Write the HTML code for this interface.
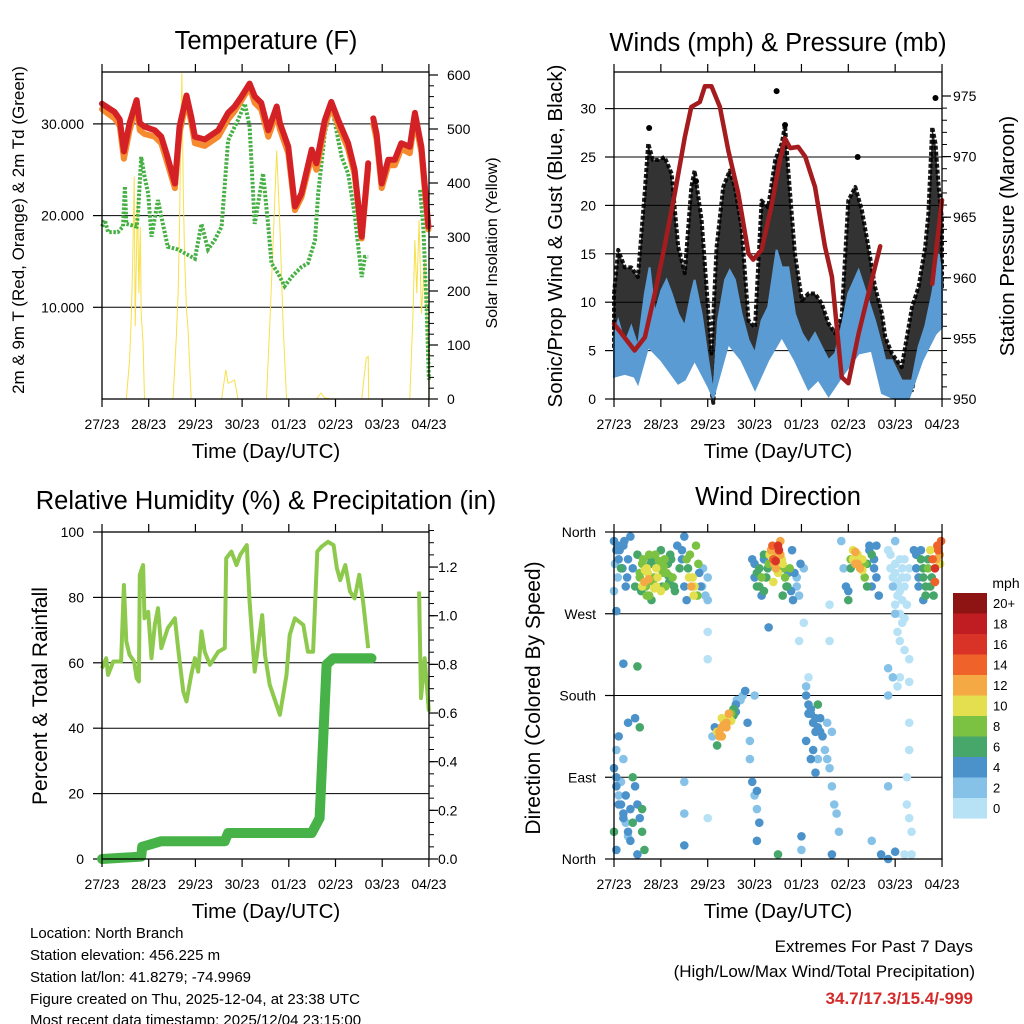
<!DOCTYPE html>
<html><head><meta charset="utf-8"><style>
html,body{margin:0;padding:0;background:#fff;}
svg{display:block;font-family:"Liberation Sans",sans-serif;}
</style></head><body>
<svg id="c" width="1024" height="1024" viewBox="0 0 1024 1024" xmlns="http://www.w3.org/2000/svg">
<rect x="0" y="0" width="1024" height="1024" fill="#fff"/>
<text x="266" y="49" font-size="25.5" text-anchor="middle">Temperature (F)</text>
<text x="778" y="51" font-size="25.5" text-anchor="middle">Winds (mph) &amp; Pressure (mb)</text>
<text x="266" y="509" font-size="25.5" text-anchor="middle">Relative Humidity (%) &amp; Precipitation (in)</text>
<text x="778" y="505" font-size="25.5" text-anchor="middle">Wind Direction</text>
<text x="266" y="458" font-size="20.5" text-anchor="middle">Time (Day/UTC)</text>
<text x="778" y="458" font-size="20.5" text-anchor="middle">Time (Day/UTC)</text>
<text x="266" y="918" font-size="20.5" text-anchor="middle">Time (Day/UTC)</text>
<text x="778" y="918" font-size="20.5" text-anchor="middle">Time (Day/UTC)</text>
<text transform="translate(24,230) rotate(-90)" font-size="17" text-anchor="middle">2m &amp; 9m T (Red, Orange) &amp; 2m Td (Green)</text>
<text transform="translate(497,243) rotate(-90)" font-size="16" text-anchor="middle">Solar Insolation (Yellow)</text>
<text transform="translate(562,236) rotate(-90)" font-size="20.5" text-anchor="middle">Sonic/Prop Wind &amp; Gust (Blue, Black)</text>
<text transform="translate(1014,236) rotate(-90)" font-size="20.5" text-anchor="middle">Station Pressure (Maroon)</text>
<text transform="translate(47,696) rotate(-90)" font-size="21" text-anchor="middle">Percent &amp; Total Rainfall</text>
<text transform="translate(540,698) rotate(-90)" font-size="21" text-anchor="middle">Direction (Colored By Speed)</text>
<g font-size="15">
<text x="30" y="938">Location: North Branch</text>
<text x="30" y="960">Station elevation: 456.225 m</text>
<text x="30" y="982">Station lat/lon: 41.8279; -74.9969</text>
<text x="30" y="1004">Figure created on Thu, 2025-12-04, at 23:38 UTC</text>
<text x="30" y="1025">Most recent data timestamp: 2025/12/04 23:15:00</text>
</g>
<text x="973" y="952" font-size="17" text-anchor="end">Extremes For Past 7 Days</text>
<text x="975" y="977" font-size="17" text-anchor="end">(High/Low/Max Wind/Total Precipitation)</text>
<text x="973" y="1004" font-size="17" font-weight="bold" fill="#d42a2a" text-anchor="end">34.7/17.3/15.4/-999</text>
<text x="1006" y="588" font-size="14" text-anchor="middle">mph</text>
</svg>
<script>
const NS='http://www.w3.org/2000/svg';
const svg=document.getElementById('c');
function mk(tag,attrs,parent){const e=document.createElementNS(NS,tag);for(const k in attrs)e.setAttribute(k,attrs[k]);(parent||svg).appendChild(e);return e;}

// ---- data ----
const dayLabels=['27/23','28/23','29/23','30/23','01/23','02/23','03/23','04/23'];
const tempDays=[0,0.27,0.38,0.47,0.59,0.74,0.81,0.91,1.13,1.27,1.38,1.56,1.66,1.81,1.91,1.99,2.2,2.49,2.7,2.84,2.99,3.16,3.27,3.41,3.56,3.74,3.81,3.99,4.13,4.27,4.49,4.59,4.77,4.91,5.06,5.27,5.41,5.56,5.7,5.75,5.81,5.88,5.99,6.13,6.27,6.41,6.59,6.7,6.84,6.99];
const temp2m=[32.2,31.3,30.5,27.0,30.1,32.6,30.1,29.7,29.3,28.6,26.8,23.5,29.7,33.1,30.8,28.6,28.3,29.3,31.2,31.9,33.0,34.4,33.0,32.3,29.3,31.9,30.1,27.5,21.0,22.4,27.2,25.7,30.4,32.4,30.4,27.9,25.0,17.7,25.7,null,30.6,28.9,23.5,26.1,26.1,27.9,27.5,31.2,27.5,18.8];
const temp9m=[31.6,30.6,29.8,26.2,29.3,32.0,29.3,28.9,28.6,27.9,26.1,23.0,29.0,32.6,30.2,27.9,27.6,28.6,30.5,31.4,32.6,34.0,32.3,31.6,28.6,31.2,29.4,26.8,20.6,22.0,26.5,25.0,29.8,32.0,29.8,27.3,24.5,17.5,25.2,null,30.0,28.3,23.0,25.5,25.5,27.3,26.8,30.6,26.9,18.5];
const dewDays=[0,0.06,0.13,0.34,0.45,0.49,0.52,0.74,0.77,0.84,0.91,0.99,1.06,1.2,1.27,1.41,1.63,1.77,1.99,2.13,2.27,2.41,2.56,2.7,2.91,3.06,3.16,3.27,3.45,3.56,3.63,3.77,3.91,4.06,4.27,4.41,4.56,4.63,4.77,4.91,5.13,5.27,5.41,5.56,5.63,5.7,6.0,6.81,6.88,6.95,7.0];
const dewVals=[18.8,19.5,18.2,18.2,18.8,23.2,19.1,18.8,20.2,26.4,24.3,22.4,17.7,21.7,19.9,16.6,16.3,15.9,15.3,19.1,16.3,17.3,18.8,28.2,30.4,32.2,29.7,19.1,24.6,18.8,14.8,13.7,12.3,13.3,14.4,14.8,17.3,22.4,29.0,32.1,26.4,24.6,20.2,13.3,15.5,15.5,null,22.8,18.8,10.1,2.1];
const solarDays=[0,0.52,0.59,0.63,0.66,0.69,0.71,0.74,0.76,0.79,0.82,0.84,0.88,0.91,1.52,1.59,1.63,1.66,1.69,1.71,1.74,1.77,1.81,1.84,1.91,2.56,2.65,2.7,2.77,2.84,2.91,3.52,3.59,3.66,3.74,3.81,3.88,3.95,4.59,4.69,4.77,4.91,5.56,5.61,5.66,5.7,5.71,6.59,6.66,6.7,6.74,6.79,6.84,6.91,6.99,7.0];
const solarVals=[0,0,72,158,263,412,135,281,368,196,319,158,103,0,0,114,196,319,504,603,381,257,165,134,0,0,54,29,32,35,0,0,134,281,460,319,134,0,0,11,2,0,0,39,76,79,0,0,158,294,196,331,158,257,72,0];

const windDaysTop=[0,0.09,0.23,0.37,0.51,0.66,0.76,0.87,1.01,1.12,1.23,1.37,1.51,1.65,1.72,1.87,2.01,2.12,2.22,2.37,2.47,2.58,2.72,2.87,3.01,3.15,3.29,3.47,3.58,3.72,3.86,4.01,4.15,4.29,4.43,4.58,4.72,4.86,5.0,5.22,5.43,5.57,5.72,5.79,5.93,6.14,6.36,6.5,6.64,6.79,6.93,7.0];
const windTop=[6.4,8.1,5.7,7.5,5.4,10.9,13.6,8.8,11.2,12.3,10.9,8.8,7.5,10.9,12.3,8.8,4.0,0.6,8.1,12.3,13.3,12.3,8.8,6.1,4.7,8.1,9.5,15.4,13.6,13.6,8.8,6.8,5.7,6.8,5.4,4.0,4.7,7.5,10.9,13.3,10.2,8.1,5.4,4.0,4.0,1.9,1.9,5.4,7.5,10.9,15.0,12.6];
const windDaysLow=[0,0.23,0.44,0.51,0.73,1.01,1.37,1.51,1.72,2.01,2.12,2.44,2.72,3.01,3.29,3.58,3.86,4.15,4.36,4.58,4.86,5.22,5.5,5.72,6.0,6.29,6.58,6.86,7.0];
const windLow=[2.3,2.6,2.3,1.6,5.4,4.0,1.6,2.0,4.0,1.3,0.1,5.7,4.0,1.0,4.0,6.4,4.0,1.0,2.0,0.3,2.3,4.7,5.0,0.6,0,0,4.0,6.7,7.4];
const gustDays=[0,0.09,0.23,0.37,0.51,0.66,0.73,0.83,0.94,1.08,1.23,1.37,1.51,1.65,1.72,1.87,2.01,2.08,2.19,2.33,2.47,2.58,2.72,2.87,3.01,3.15,3.29,3.44,3.58,3.65,3.72,3.86,4.01,4.15,4.29,4.43,4.58,4.72,4.86,5.0,5.15,5.29,5.43,5.57,5.72,5.79,5.93,6.14,6.36,6.5,6.64,6.71,6.79,6.86,6.93,7.0];
const gustTop=[10.9,15.4,13.6,13.6,12.6,21.6,26.4,24.7,24.7,25.0,23.3,15.7,13.0,21.9,23.6,18.5,9.2,4.7,15.7,21.9,23.6,21.9,17.8,8.1,7.4,20.5,19.8,24.7,26.4,28.3,23.6,15.0,10.2,10.9,10.9,9.9,7.8,6.8,8.5,20.5,21.9,19.5,15.7,11.6,8.8,6.4,4.7,3.3,9.5,11.6,15.7,19.2,28.1,26.4,21.9,18.5];
const gustOutDays=[3.47,6.86,3.65,5.2,0.75,1.75];
const gustOutVals=[31.8,31.1,28.3,25.0,28.0,22.5];
const presDays=[0,0.44,0.66,0.87,1.08,1.3,1.51,1.65,1.83,1.94,2.08,2.26,2.44,2.65,2.87,2.97,3.15,3.36,3.54,3.65,3.76,3.93,4.08,4.29,4.5,4.65,4.86,5.0,5.22,5.43,5.57,5.68,5.9,6.79,6.89,7.0];
const presVals=[956.2,954.0,955.1,958.7,962.6,967.0,971.6,974.1,974.5,975.8,975.8,974.1,970.5,967.0,962.0,961.5,962.3,965.9,969.7,971.5,970.7,970.8,970.0,967.5,962.6,960.1,951.8,951.3,955.4,958.7,960.9,962.6,null,959.5,962.8,966.4];

const rhDays=[0,0.09,0.13,0.24,0.41,0.47,0.52,0.59,0.69,0.74,0.79,0.81,0.88,0.91,0.99,1.06,1.13,1.2,1.27,1.41,1.56,1.63,1.74,1.81,1.91,1.99,2.06,2.13,2.2,2.31,2.49,2.63,2.66,2.77,2.88,2.96,3.1,3.16,3.27,3.43,3.49,3.59,3.81,3.95,4.02,4.13,4.31,4.41,4.52,4.61,4.7,4.84,4.96,5.03,5.1,5.21,5.31,5.41,5.51,5.59,5.7,6.2,6.79,6.83,6.91,7.0];
const rhVals=[58.3,61.4,56.3,60.4,60.4,83.8,66.5,62.4,60.4,55.3,54.3,86.9,89.9,73.6,75.6,61.4,71.6,76.7,64.5,70.6,73.6,64.5,51.2,48.2,56.3,61.4,57.3,69.6,63.4,59.4,63.4,64.5,92.0,94.0,89.9,93.0,96.0,78.7,57.3,74.6,62.4,53.3,44.1,56.3,68.5,73.6,71.6,63.4,63.4,94.0,95.5,97.0,96.0,88.9,85.3,89.9,81.8,79.7,86.9,78.7,64.5,null,81.8,49.2,61.4,45.1];
const precDays=[0,0.84,0.86,1.27,2.63,2.7,4.49,4.66,4.81,4.95,5.77];
const precVals=[0.0,0.01,0.05,0.073,0.073,0.107,0.107,0.168,0.8,0.825,0.825];

const dirDays=[0,0.05,0.1,0.08,0.15,0.2,0.25,0,0.3,0.35,0.4,0.45,0.5,0.55,0.6,0.65,0.7,0.75,0.8,0.85,0.9,0.95,1,1.05,1.1,1.15,1.2,1.25,1.3,1.35,1.4,1.45,1.5,1.55,1.6,1.65,1.7,1.75,1.8,1.85,1.9,1.95,2,2,0.7,0.8,0.6,1,0.9,0.75,0.05,
2.95,3,3.05,3.1,3.15,3.2,3.25,3.3,3.35,3.4,3.45,3.5,3.55,3.6,3.65,3.7,3.75,3.8,3.85,3.9,3.95,4.05,3.4,3.5,3.6,3.2,3.55,3.45,
4.85,4.9,4.95,5,5.05,5.1,5.15,5.2,5.25,5.3,5.35,5.4,5.45,5.5,5.55,5.6,5.65,5.5,
5.85,5.9,5.95,6,6.05,6.1,6.15,6.2,6.25,6.3,6,6.05,6.1,6.15,6.2,6.3,5.95,6.05,6.3,6,
6.4,6.45,6.5,6.55,6.6,6.65,6.7,6.75,6.8,6.85,6.9,6.95,6.85,6.75,6.6,
2.1,2.15,2.2,2.25,2.3,2.35,2.4,2.45,2.5,2.55,2.6,2.7,2.75,2.8,2.85,2.9,2.9,2.95,3,2.2,2.3,2.45,
4.1,4.15,4.2,4.25,4.3,4.35,4.4,4.45,4.5,4.55,4.6,4.65,4.7,4.1,4.2,4.3,4.55,4.65,4.75,4.8,4.1,4.15,
0,0.05,0.1,0.15,0.2,0.25,0.3,0.35,0.4,0.45,0.5,0.55,0.6,0.65,0.05,0.1,0.3,0.45,0.55,0.6,0,0.05,0.5,0.2,
0.2,0.5,1.5,1.5,1.5,1.55,2,2,2,3,3.05,3.05,3.1,3.05,3.3,3.5,3.95,4.05,4,4,4.6,4.6,4.65,5.5,5.7,5.85,6,6.1,6.3,6.3,6.25,6.25,6.3,6.35,6.35,6.2,5.85,5.85,5.85,
0.55,0.62,0.68,0.72,0.78,0.83,0.88,0.93,0.98,1.03,1.08,1.12,1.18,0.58,0.66,0.74,0.86,0.96,1.06,1.16,1.22,1.28,0.12,0.18,0.22,0.28,0.02,0.1,1.45,1.5,1.58,1.62,1.68,1.72,1.78,1.82,1.88,
3.0,3.05,3.1,3.15,3.2,3.28,3.32,3.38,3.42,3.48,3.52,3.58,3.62,3.68,3.72,3.78,3.82,3.9,3.98,
5.0,5.05,5.1,5.15,5.2,5.25,5.3,5.35,5.4,5.45,5.55,5.6,
5.9,5.95,6.0,6.05,6.1,6.15,6.2,6.25,6.0,6.1,6.2,6.05,6.15,
6.45,6.5,6.55,6.6,6.65,6.7,6.78,6.82,6.88,6.92,6.96,6.98,
2.25,2.3,2.35,2.4,2.5,2.55,2.6,2.62,
4.15,4.2,4.25,4.3,4.35,4.4,4.25,4.35,
0.05,0.1,0.15,0.2,0.25,0.3,0.35,0.4];
const dirVals=[350,340,330,310,320,345,300,295,330,355,320,300,335,315,325,305,320,290,330,310,300,325,340,315,300,325,335,310,295,345,320,340,355,330,310,300,290,345,325,300,320,290,310,285,290,285,300,295,320,335,273,
330,310,300,320,290,335,310,325,340,330,320,345,335,325,310,300,320,340,315,300,290,320,305,315,290,295,350,328,
350,320,300,285,330,340,325,335,320,330,310,325,340,300,320,345,290,335,
340,320,300,315,290,330,310,300,280,320,270,250,240,260,230,220,200,190,195,350,
340,320,300,330,310,290,320,340,330,320,345,335,305,300,285,
135,145,140,135,145,150,150,155,160,165,170,175,180,185,150,130,110,85,70,125,155,160,
180,170,160,150,140,170,155,135,120,110,100,80,60,130,110,95,150,140,50,30,190,200,
100,80,70,60,50,40,30,20,90,80,60,45,30,10,120,135,150,155,145,55,30,10,5,110,
215,212,85,50,15,285,250,220,45,180,75,55,40,20,255,5,240,260,25,10,240,280,5,20,5,0,8,200,150,120,90,60,45,30,5,5,80,180,210,
310,330,300,315,325,305,335,310,320,300,330,315,305,295,318,308,298,328,322,312,330,300,340,320,350,310,325,345,330,300,320,335,310,300,290,315,300,
325,315,300,310,330,320,335,345,325,335,340,330,320,300,315,295,285,310,325,
295,320,330,338,325,330,318,325,300,345,330,310,
335,310,325,305,295,320,330,310,280,270,265,300,285,
335,310,340,320,300,330,310,290,330,340,325,350,
140,135,148,145,152,158,162,175,
160,165,150,155,145,140,120,110,
90,60,85,45,70,25,55,40];
const dirSpd=[4,4,5,3,6,4,4,3,5,4,5,6,7,8,9,12,10,8,7,9,10,6,7,9,8,7,6,8,7,5,7,4,4,8,10,12,11,9,8,4,3,2,2,2,8,7,10,10,11,9,4,
4,4,6,7,5,6,7,8,12,14,12,16,12,10,8,7,9,4,4,3,3,2,10,11,6,6,13,16,
2,2,4,6,8,10,12,11,12,10,8,6,4,4,4,4,4,7,
0,1,2,0,0,0,1,0,0,1,2,1,0,1,1,0,2,1,0,2,
4,4,4,6,6,6,8,10,14,16,14,12,14,6,4,
2,4,10,12,12,10,12,10,8,6,4,2,2,4,4,2,2,4,2,6,10,12,
4,4,4,2,4,6,4,4,2,2,2,2,2,4,4,4,2,2,2,2,2,0,
4,4,2,4,4,2,4,4,6,4,4,4,6,6,2,4,4,4,6,6,6,4,4,2,
4,6,2,2,4,4,0,0,0,2,4,2,4,4,4,6,0,0,4,2,0,0,4,2,4,4,4,0,0,0,0,0,0,0,0,0,2,2,2,
8,9,8,10,7,9,8,11,9,7,8,9,7,6,10,12,10,9,8,7,6,7,4,5,4,4,3,4,4,4,6,8,11,10,9,4,2,
4,6,6,8,4,7,10,14,12,12,16,11,9,7,4,4,4,3,4,
4,6,10,12,12,11,10,8,6,4,4,4,
0,0,1,0,0,1,0,0,1,0,1,0,0,
4,4,4,6,6,6,6,6,12,14,10,14,
12,12,12,12,10,6,4,2,
4,4,4,4,4,4,4,2,
4,4,2,4,4,2,4,6];
const spdColors=['#b7e2f6','#86c2e8','#4b92cb','#47a76a','#7cc242','#e4df4f','#f5a944','#ef6229','#d93327','#c01d22','#8e1414'];
const legendLabels=['20+','18','16','14','12','10','8','6','4','2','0'];

// ---- axes ----
const X1=d=>102+d*46.7, X2=d=>614+d*46.86;
const yT=v=>399-v*9.17, ySol=v=>399-v*0.54;
const yW=v=>399-v*9.68, yP=p=>399-(p-950)*12.12;
const yRH=v=>859-v*3.27, yPr=v=>859-v*243.3;
const yD=v=>859-v*327/360;

function path(days,vals,fx,fy){let s='',pen=false;for(let i=0;i<days.length;i++){if(vals[i]===null){pen=false;continue;}s+=(pen?'L':'M')+fx(days[i]).toFixed(1)+' '+fy(vals[i]).toFixed(1);pen=true;}return s;}

function frame(x0,x1,y0,y1,name,fx,bottomLabelY){
  const g=mk('g',{});
  
  
  mk('rect',{x:x0,y:y0,width:x1-x0,height:y1-y0,fill:'none',stroke:'#000','stroke-width':1.3},g);
  dayLabels.forEach((lab,i)=>{const x=fx(i);
    mk('line',{x1:x,x2:x,y1:y1,y2:y1+8,stroke:'#000','stroke-width':1.2},g);
    mk('line',{x1:x,x2:x,y1:y0,y2:y0-8,stroke:'#000','stroke-width':1.2},g);
    const t=mk('text',{x:x,y:bottomLabelY,'font-size':14,'text-anchor':'middle'},g);
    
    
    t.textContent=lab;});
  return g;
}
function hgrid(vals,fy,x0,x1){vals.forEach(v=>{const l=mk('line',{x1:x0,x2:x1,y1:fy(v),y2:fy(v),stroke:'#000','stroke-width':1});
  
  });}
function ylabels(vals,fmt,fy,x,anchor,tickx,dir,name){vals.forEach(v=>{const t=mk('text',{x:x,y:fy(v)+5,'font-size':14,'text-anchor':anchor});
  
  
  t.textContent=fmt(v);
  mk('line',{x1:tickx,x2:tickx+dir*9,y1:fy(v),y2:fy(v),stroke:'#000','stroke-width':1.2});});}
function minor(n,y0,y1,x,dir){for(let i=0;i<=n;i++){const y=y0+(y1-y0)*i/n;mk('line',{x1:x,x2:x+dir*5,y1:y,y2:y,stroke:'#000','stroke-width':1});}}

// ---- Panel 1: temperature ----
hgrid([10,20,30],yT,102,429);
ylabels([10,20,30],v=>v.toFixed(3),yT,84,'end',102,-1,'temp-tick-label');
ylabels([0,100,200,300,400,500,600],v=>String(v),ySol,447,'start',429,1,'solar-tick-label');
minor(30,ySol(0),ySol(600),429,1);
let e=mk('path',{d:path(solarDays,solarVals,X1,ySol),fill:'none',stroke:'#f7e04a','stroke-width':1});


e=mk('path',{d:path(dewDays,dewVals,X1,yT),fill:'none',stroke:'#46b045','stroke-width':4,'stroke-dasharray':'2.5 1.6'});


e=mk('path',{d:path(tempDays,temp9m,X1,yT),fill:'none',stroke:'#f58a2e','stroke-width':6,'stroke-linejoin':'round','stroke-linecap':'round'});


e=mk('path',{d:path(tempDays,temp2m,X1,yT),fill:'none',stroke:'#d42126','stroke-width':6,'stroke-linejoin':'round','stroke-linecap':'round'});


frame(102,429,72,399,'temperature',X1,429);

// ---- Panel 2: winds ----
hgrid([5,10,15,20,25,30],yW,614,942);
ylabels([0,5,10,15,20,25,30],v=>String(v),yW,596,'end',614,-1,'wind-tick-label');
ylabels([950,955,960,965,970,975],v=>String(v),yP,953,'start',942,1,'pressure-tick-label');
minor(25,yP(950),yP(975),942,1);
let gp='M'+X2(gustDays[0])+' '+yW(gustTop[0]);
for(let i=1;i<gustDays.length;i++)gp+='L'+X2(gustDays[i]).toFixed(1)+' '+yW(gustTop[i]).toFixed(1);
for(let i=windDaysTop.length-1;i>=0;i--)gp+='L'+X2(windDaysTop[i]).toFixed(1)+' '+yW(windTop[i]-1).toFixed(1);
e=mk('path',{d:gp+'Z',fill:'#000','fill-opacity':0.8,stroke:'#000','stroke-width':4,'stroke-opacity':0.9,'stroke-linejoin':'round','stroke-dasharray':'4 2'});


let bp='M'+X2(windDaysTop[0])+' '+yW(windTop[0]);
for(let i=1;i<windDaysTop.length;i++)bp+='L'+X2(windDaysTop[i]).toFixed(1)+' '+yW(windTop[i]).toFixed(1);
for(let i=windDaysLow.length-1;i>=0;i--)bp+='L'+X2(windDaysLow[i]).toFixed(1)+' '+yW(windLow[i]).toFixed(1);
e=mk('path',{d:bp+'Z',fill:'#5a9bd3',stroke:'#5a9bd3','stroke-width':2});


gustOutDays.forEach((d,i)=>{const c=mk('circle',{cx:X2(d),cy:yW(gustOutVals[i]),r:3,fill:'#000'});
  
  });
e=mk('path',{d:path(presDays,presVals,X2,yP),fill:'none',stroke:'#a51c1f','stroke-width':4.5,'stroke-linejoin':'round','stroke-linecap':'round'});


frame(614,942,72,399,'winds',X2,429);

// ---- Panel 3: humidity ----
hgrid([20,40,60,80],yRH,102,429);
ylabels([0,20,40,60,80,100],v=>String(v),yRH,84,'end',102,-1,'rh-tick-label');
ylabels([0,0.2,0.4,0.6,0.8,1.0,1.2],v=>v.toFixed(1),yPr,438,'start',429,1,'precip-tick-label');
minor(27,yPr(0),yPr(1.35),429,1);
e=mk('path',{d:path(rhDays,rhVals,X1,yRH),fill:'none',stroke:'#8dc94d','stroke-width':4,'stroke-linejoin':'round'});


e=mk('path',{d:path(precDays,precVals,X1,yPr),fill:'none',stroke:'#47b247','stroke-width':10,'stroke-linejoin':'round','stroke-linecap':'round'});


frame(102,429,532,859,'humidity',X1,889);

// ---- Panel 4: wind direction ----
hgrid([90,180,270],yD,614,942);
const dirNames=['North','East','South','West','North'];
dirNames.forEach((n,i)=>{const t=mk('text',{x:596,y:yD(i*90)+5,'font-size':14,'text-anchor':'end'});
  
  
  t.textContent=n;
  mk('line',{x1:614,x2:605,y1:yD(i*90),y2:yD(i*90),stroke:'#000','stroke-width':1.2});});
const order=dirDays.map((d,i)=>i).sort((a,b)=>dirSpd[a]-dirSpd[b]);
order.forEach(i=>{const c=mk('circle',{cx:X2(dirDays[i]),cy:yD(dirVals[i]),r:4.3,fill:spdColors[Math.min(10,Math.floor(dirSpd[i]/2))]});
  
  });
frame(614,942,532,859,'direction',X2,889);

// legend
legendLabels.forEach((lab,i)=>{const y=593+i*20.5;
  const r=mk('rect',{x:953,y:y,width:34,height:20.6,fill:spdColors[10-i]});
  
  
  const t=mk('text',{x:993,y:y+15,'font-size':13});
  
  
  t.textContent=lab;});
</script>
</body></html>
